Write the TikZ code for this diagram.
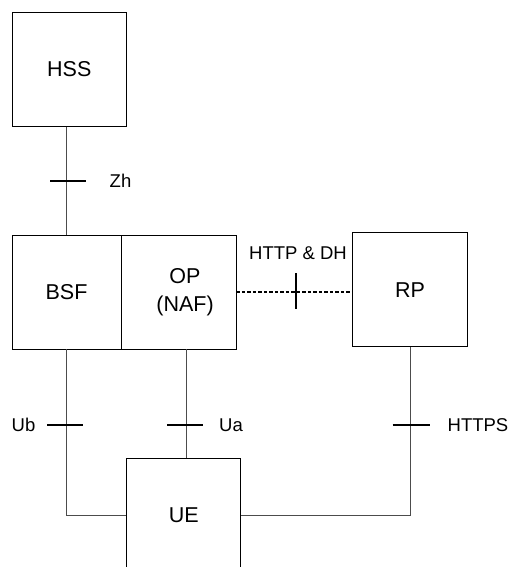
\documentclass[tikz,border=0pt]{standalone}
\usepackage{fontspec}
\setmainfont{Liberation Sans}
\begin{document}
\begin{tikzpicture}[x=1pt,y=-1pt,
  box/.style={draw=black,line width=0.9pt,fill=white,inner sep=0pt,font=\fontsize{21.5}{24}\selectfont,align=center},
  conn/.style={draw=black!70,line width=0.9pt},
  dconn/.style={draw=black,line width=1.2pt,dash pattern=on 3.5pt off 2pt},
  tick/.style={draw=black,line width=1.8pt},
  lbl/.style={inner sep=0pt,font=\fontsize{18.5}{21}\selectfont}]
\useasboundingbox (0,0) rectangle (511,567);
\node[box,minimum width=114.7pt,minimum height=114.4pt] (HSS) at (69.3,69.5) {HSS};
\node[box,minimum width=109pt,minimum height=114pt] (BSF) at (66.5,292) {BSF};
\node[box,minimum width=115pt,minimum height=114pt] (OP) at (178.5,292) {};
\node[font=\fontsize{21.5}{28}\selectfont,align=center,inner sep=0pt] (OPl) at (185,292) {OP\\(NAF)};
\node[box,minimum width=114.6pt,minimum height=114pt] (RP) at (410,289.7) {RP};
\node[box,minimum width=114pt,minimum height=115pt] (UE) at (183.7,515.5) {UE};
\coordinate (uax) at (186,0);
% connectors
\draw[conn] (BSF.north |- HSS.south) -- (BSF.north);
\draw[conn] (BSF.south) |- (UE.west);
\draw[conn] (OP.south -| uax) -- (UE.north -| uax);
\draw[conn] (RP.south) |- (UE.east);
\draw[dconn] (OP.east) -- (OP.east -| RP.west);
% ticks
\coordinate (tzh) at (68,180.7);
\coordinate (tub) at (65,425);
\coordinate (tua) at (185,425);
\coordinate (ths) at (411,425);
\coordinate (tdh) at (295.7,291);
\draw[tick] ([xshift=-18pt]tzh) -- ([xshift=18pt]tzh);
\draw[tick] ([xshift=-18pt]tub) -- ([xshift=18pt]tub);
\draw[tick] ([xshift=-18pt]tua) -- ([xshift=18pt]tua);
\draw[tick] ([xshift=-18.5pt]ths) -- ([xshift=18.5pt]ths);
\draw[tick] ([yshift=18pt]tdh) -- ([yshift=-18pt]tdh);
% labels
\node[lbl] (lzh) at (120.5,181) {Zh};
\node[lbl] (lub) at (23.5,425) {Ub};
\node[lbl] (lua) at (231,425) {Ua};
\node[lbl] (lhs) at (478,425) {HTTPS};
\node[lbl] (ldh) at (298,253) {HTTP \& DH};
\end{tikzpicture}
\end{document}
